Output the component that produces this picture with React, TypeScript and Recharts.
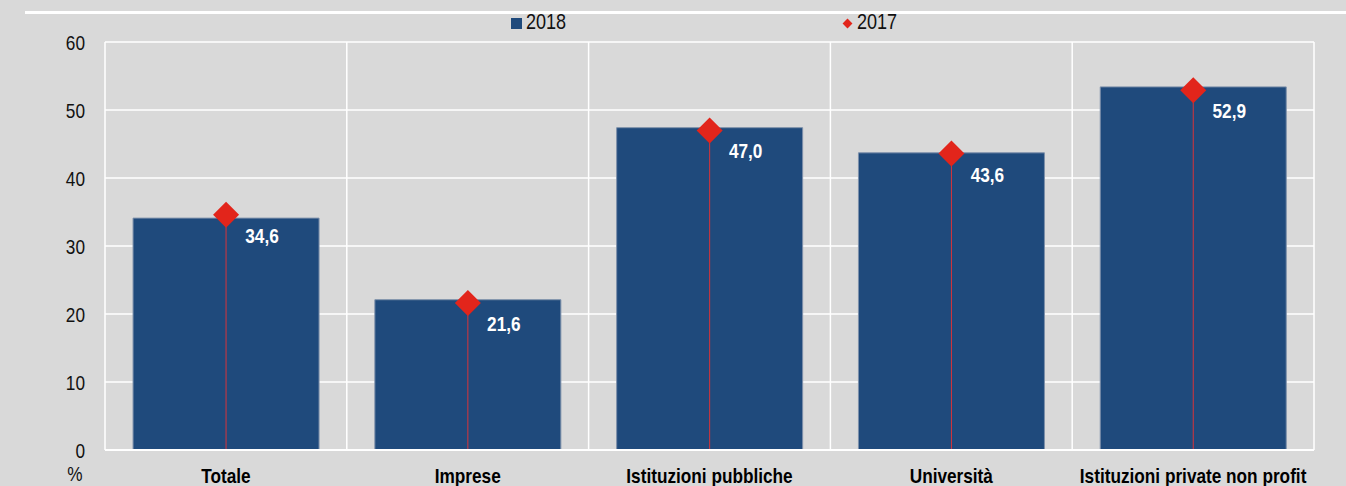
import {
  ComposedChart,
  Bar,
  XAxis,
  YAxis,
  CartesianGrid,
  LabelList,
} from 'recharts';

const categories = [
  'Totale',
  'Imprese',
  'Istituzioni pubbliche',
  'Università',
  'Istituzioni private non profit',
];
const values2018 = [34.1, 22.1, 47.4, 43.7, 53.4];
const values2017 = [34.6, 21.6, 47.0, 43.6, 52.9];
const yTicks = [0, 10, 20, 30, 40, 50, 60];

// no narrow font installed, so squeeze Liberation Sans horizontally
const FONT = '"Liberation Sans", Arial, sans-serif';
const SQ = 0.82;
const BG = '#d9d9d9';
const BLUE = '#1f4a7c';
const RED = '#e2251b';

const data = categories.map((name, i) => ({
  name,
  v2018: values2018[i],
  v2017: values2017[i],
}));

const NarrowText = ({ x, y, anchor, bold, fill, children }: any) => (
  <text
    transform={`translate(${x},${y}) scale(${SQ},1)`}
    textAnchor={anchor}
    fontFamily={FONT}
    fontSize={21}
    fontWeight={bold ? 'bold' : 'normal'}
    fill={fill}
  >
    {children}
  </text>
);

// thin stem from the 2017 marker down to the baseline, diamond on top
const DiamondStem = (props: any) => {
  const { x, y, width, height } = props;
  const cx = x + width / 2;
  const r = 13;
  return (
    <g>
      <line x1={cx} x2={cx} y1={y} y2={y + height} stroke="#d8343a" strokeWidth={1} />
      <polygon
        points={`${cx},${y - r} ${cx + r},${y} ${cx},${y + r} ${cx - r},${y}`}
        fill={RED}
      />
    </g>
  );
};

const ValueLabel = (props: any) => {
  const { x, y, width, value } = props;
  return (
    <NarrowText x={x + width / 2 + 36} y={y + 28} anchor="middle" bold fill="#ffffff">
      {Number(value).toFixed(1).replace('.', ',')}
    </NarrowText>
  );
};

const XTick = ({ x, y, payload }: any) => (
  <NarrowText x={x} y={y + 15} anchor="middle" bold fill="#000">
    {payload.value}
  </NarrowText>
);

const YTick = ({ x, y, payload }: any) => (
  <NarrowText x={x} y={y + 7.5} anchor="end" fill="#111">
    {payload.value}
  </NarrowText>
);

const legendText: any = {
  position: 'absolute',
  top: 9,
  fontFamily: FONT,
  fontSize: 22,
  lineHeight: '26px',
  color: '#111',
  transform: `scaleX(${SQ})`,
  transformOrigin: 'left center',
};

export default function App() {
  return (
    <div
      style={{
        position: 'absolute',
        left: 0,
        top: 0,
        width: 1346,
        height: 486,
        background: BG,
        overflow: 'hidden',
      }}
    >
      <div style={{ position: 'absolute', left: 25, top: 11, width: 1321, height: 3, background: '#ffffff' }} />
      {/* legend */}
      <div style={{ position: 'absolute', left: 511, top: 18, width: 11, height: 11, background: BLUE }} />
      <div style={{ ...legendText, left: 526 }}>2018</div>
      <div
        style={{
          position: 'absolute',
          left: 844,
          top: 20,
          width: 7,
          height: 7,
          background: RED,
          transform: 'rotate(45deg)',
        }}
      />
      <div style={{ ...legendText, left: 857 }}>2017</div>

      <ComposedChart
        width={1346}
        height={486}
        data={data}
        margin={{ top: 42, right: 32, bottom: 0, left: 0 }}
        barCategoryGap="11.6%"
      >
        <CartesianGrid
          stroke="#ffffff"
          strokeWidth={1.5}
          verticalCoordinatesGenerator={({ offset }: any) =>
            categories
              .map((_, i) => offset.left + (offset.width * i) / categories.length)
              .concat(offset.left + offset.width)
          }
        />
        <XAxis
          xAxisId="a"
          dataKey="name"
          height={36}
          axisLine={{ stroke: '#ffffff', strokeWidth: 2 }}
          tickLine={false}
          tickSize={0}
          tickMargin={18}
          interval={0}
          tick={<XTick />}
        />
        <XAxis xAxisId="b" dataKey="name" hide />
        <YAxis
          domain={[0, 60]}
          ticks={yTicks}
          width={105}
          axisLine={false}
          tickLine={false}
          tickSize={0}
          tickMargin={20}
          tick={<YTick />}
          label={{
            content: ({ viewBox }: any) => (
              <NarrowText
                x={viewBox.x + viewBox.width - 30}
                y={viewBox.y + viewBox.height + 31}
                anchor="middle"
                fill="#111"
              >
                %
              </NarrowText>
            ),
          }}
        />
        <Bar
          xAxisId="a"
          dataKey="v2018"
          name="2018"
          fill={BLUE}
          stroke="#7d90aa"
          strokeWidth={1}
          isAnimationActive={false}
        />
        <Bar
          xAxisId="b"
          dataKey="v2017"
          name="2017"
          fill={RED}
          shape={<DiamondStem />}
          isAnimationActive={false}
        >
          <LabelList dataKey="v2017" content={<ValueLabel />} />
        </Bar>
      </ComposedChart>
    </div>
  );
}
